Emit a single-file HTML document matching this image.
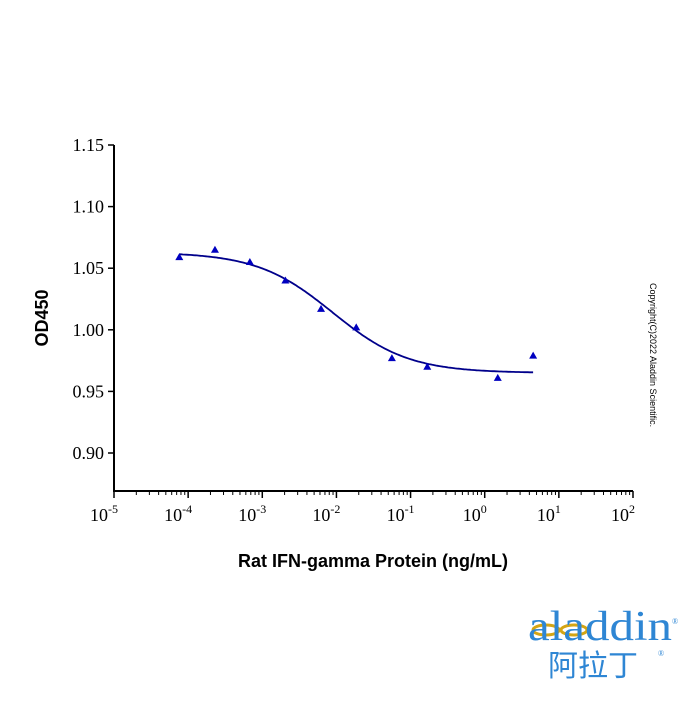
<!DOCTYPE html>
<html><head><meta charset="utf-8"><style>
body{margin:0;background:#fff;width:700px;height:700px;overflow:hidden}
svg text{font-family:"Liberation Serif",serif}
</style></head><body>
<svg width="700" height="700">
<g id="axes"></g><g id="plot"></g>
<text x="0" y="0" transform="translate(48,318) rotate(-90)" text-anchor="middle" style="font-family:'Liberation Sans',sans-serif;font-weight:bold;font-size:18px">OD450</text>
<text x="373" y="567" text-anchor="middle" style="font-family:'Liberation Sans',sans-serif;font-weight:bold;font-size:18px">Rat IFN-gamma Protein (ng/mL)</text>
<text x="0" y="0" transform="translate(650,283) rotate(90)" style="font-family:'Liberation Sans',sans-serif;font-size:9px">Copyright(C)2022 Aladdin Scientific.</text>
<g>
<ellipse cx="546" cy="630" rx="13" ry="5" fill="none" stroke="#d4a514" stroke-width="3"/>
<ellipse cx="574" cy="630" rx="13" ry="5" fill="none" stroke="#d4a514" stroke-width="3"/>
<text x="528" y="640" textLength="144" lengthAdjust="spacingAndGlyphs" style="font-family:'Liberation Serif',serif;font-size:42px;fill:#2e86d4">aladdin</text>
<text x="672" y="624" style="font-size:8px;fill:#2e86d4">®</text>
<text x="548" y="676" style="font-family:'Noto Sans CJK SC',sans-serif;font-size:30px;fill:#2e86d4">阿拉丁</text>
<text x="658" y="656" style="font-size:8px;fill:#2e86d4">®</text>
</g>
</svg>
<script>
const concentrations=[7.6e-5,2.3e-4,6.8e-4,2.05e-3,6.2e-3,1.85e-2,5.6e-2,1.68e-1,1.5,4.5];
const odValues=[1.059,1.065,1.055,1.040,1.017,1.002,0.977,0.970,0.961,0.979];
const fitParams=[1.063,0.965,-2.05,0.85]; // top, bottom, logEC50, hill
const yTicks=[0.90,0.95,1.00,1.05,1.10,1.15];
const xDecades=[-5,-4,-3,-2,-1,0,1,2];
const NS="http://www.w3.org/2000/svg";
const X0=114,X1=633,Y0=491;
const xs=l=>X0+(l+5)/7*(X1-X0);
const ys=v=>145+(1.15-v)/0.05*61.6;
function mk(t,a,p){const e=document.createElementNS(NS,t);for(const k in a)e.setAttribute(k,a[k]);p.appendChild(e);return e;}
const ax=document.getElementById('axes'),pl=document.getElementById('plot');
const yl=mk('line',{x1:X0,y1:145,x2:X0,y2:Y0,stroke:'#000','stroke-width':2},ax);


const xl=mk('line',{x1:X0-1,y1:Y0,x2:X1,y2:Y0,stroke:'#000','stroke-width':2},ax);


yTicks.forEach(v=>{const y=ys(v);
mk('line',{x1:X0-6,y1:y,x2:X0,y2:y,stroke:'#000','stroke-width':1.5},ax);
const t=mk('text',{x:X0-10,y:y+6,'text-anchor':'end','font-size':18},ax);t.textContent=v.toFixed(2);

});
xDecades.forEach(d=>{const x=xs(d);
mk('line',{x1:x,y1:Y0,x2:x,y2:Y0+7,stroke:'#000','stroke-width':1.5},ax);
if(d<2)for(let m=2;m<10;m++){const xm=xs(d+Math.log10(m));mk('line',{x1:xm,y1:Y0,x2:xm,y2:Y0+4,stroke:'#000','stroke-width':1},ax);}
const t=mk('text',{x:x-10,y:Y0+30,'text-anchor':'middle','font-size':18},ax);
t.textContent='10';const s=mk('tspan',{dy:-8,'font-size':12},t);s.textContent=(d<0?'-':'')+Math.abs(d);

});
const fitTop=fitParams[0],fitBot=fitParams[1],fitEc=fitParams[2],fitHill=fitParams[3];
const lo=Math.log10(concentrations[0]),hi=Math.log10(concentrations[concentrations.length-1]);
let pathD='';for(let i=0;i<=200;i++){const l=lo+(hi-lo)*i/200;const v=fitBot+(fitTop-fitBot)/(1+Math.pow(10,(l-fitEc)*fitHill));pathD+=(i?'L':'M')+xs(l).toFixed(1)+','+ys(v).toFixed(1);}
const curve=mk('path',{d:pathD,fill:'none',stroke:'#00008b','stroke-width':1.8},pl);


concentrations.forEach((cx,i)=>{const x=xs(Math.log10(cx)),y=ys(odValues[i]);
const p=mk('polygon',{points:`${x},${y-4} ${x-4},${y+3} ${x+4},${y+3}`,fill:'#0000c0'},pl);

});
</script>
</body></html>
